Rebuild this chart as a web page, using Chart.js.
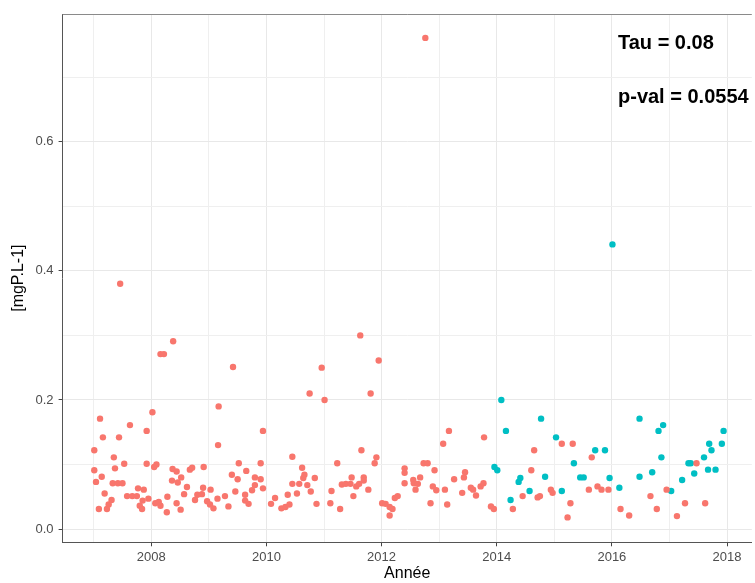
<!DOCTYPE html>
<html>
<head>
<meta charset="utf-8">
<script src="https://cdn.jsdelivr.net/npm/chart.js@4/dist/chart.umd.min.js"></script>
<style>
  html, body { margin: 0; padding: 0; background: #fff; }
  #wrap { width: 755px; height: 583px; }
</style>
</head>
<body>
<div id="wrap"><canvas id="myChart" width="755" height="583"></canvas></div>
<script>
// red series (before / parallel)
const redYears = [
  2007.01, 2007.01, 2007.04, 2007.09, 2007.11, 2007.14, 2007.16, 2007.19, 2007.23, 2007.26,
  2007.31, 2007.33, 2007.35, 2007.37, 2007.42, 2007.44, 2007.46, 2007.50, 2007.53, 2007.58,
  2007.63, 2007.67, 2007.75, 2007.77, 2007.80, 2007.84, 2007.85, 2007.87, 2007.92, 2007.92,
  2007.95, 2008.02, 2008.05, 2008.07, 2008.09, 2008.13, 2008.16, 2008.16, 2008.22, 2008.27,
  2008.28, 2008.36, 2008.37, 2008.38, 2008.44, 2008.44, 2008.46,
  2008.51, 2008.52, 2008.57, 2008.62, 2008.67, 2008.71, 2008.76, 2008.80, 2008.88, 2008.90,
  2008.91, 2008.97, 2009.02, 2009.03, 2009.08, 2009.15, 2009.16, 2009.17, 2009.28, 2009.34,
  2009.40, 2009.42, 2009.46, 2009.50, 2009.52, 2009.63, 2009.63, 2009.65, 2009.69, 2009.75,
  2009.80, 2009.80, 2009.90, 2009.90, 2009.94, 2009.94, 2010.08, 2010.15, 2010.26, 2010.33,
  2010.37, 2010.40, 2010.45, 2010.45,
  2010.53, 2010.57, 2010.62, 2010.64, 2010.66, 2010.71, 2010.75, 2010.77, 2010.84, 2010.87,
  2010.96, 2011.01, 2011.11, 2011.13, 2011.23, 2011.28, 2011.31, 2011.38, 2011.46, 2011.48,
  2011.51, 2011.56, 2011.61, 2011.63, 2011.65, 2011.69, 2011.69, 2011.77, 2011.81, 2011.88,
  2011.91, 2011.95, 2012.01, 2012.07, 2012.14, 2012.14, 2012.19, 2012.23, 2012.28, 2012.40,
  2012.40,
  2012.40, 2012.55, 2012.56, 2012.59, 2012.63, 2012.67, 2012.73, 2012.76, 2012.80, 2012.85,
  2012.89, 2012.92, 2012.95, 2013.07, 2013.10, 2013.14, 2013.17, 2013.26, 2013.40, 2013.43,
  2013.45, 2013.55, 2013.59, 2013.64, 2013.72, 2013.77, 2013.78, 2013.90, 2013.95, 2014.28,
  2014.45, 2014.60, 2014.65, 2014.71, 2014.75, 2014.94, 2014.97, 2015.13, 2015.23, 2015.28,
  2015.32, 2015.60, 2015.65, 2015.75, 2015.82, 2015.94, 2016.15, 2016.30,
  2016.67, 2016.78, 2016.95, 2017.13, 2017.27, 2017.47, 2017.62
];
const redValues = [
  0.122, 0.091, 0.073, 0.031, 0.171, 0.081, 0.142, 0.055, 0.031, 0.038,
  0.045, 0.071, 0.111, 0.094, 0.071, 0.142, 0.380, 0.071, 0.101, 0.051,
  0.161, 0.051, 0.051, 0.063, 0.036, 0.031, 0.044, 0.061, 0.152, 0.101,
  0.047, 0.181, 0.096, 0.040, 0.100, 0.042, 0.036, 0.271, 0.271, 0.026,
  0.050, 0.075, 0.093, 0.291, 0.089, 0.040, 0.072,
  0.030, 0.080, 0.054, 0.065, 0.092, 0.095, 0.045, 0.053, 0.054, 0.064,
  0.096, 0.043, 0.038, 0.061, 0.032, 0.047, 0.130, 0.190, 0.051, 0.035,
  0.084, 0.251, 0.058, 0.077, 0.102, 0.053, 0.044, 0.090, 0.039, 0.060,
  0.068, 0.080, 0.077, 0.102, 0.152, 0.063, 0.039, 0.048, 0.032, 0.034,
  0.053, 0.038, 0.112, 0.070,
  0.055, 0.070, 0.095, 0.079, 0.084, 0.068, 0.210, 0.058, 0.079, 0.039,
  0.250, 0.200, 0.040, 0.059, 0.102, 0.031, 0.069, 0.070, 0.070, 0.080,
  0.051, 0.066, 0.070, 0.300, 0.122, 0.080, 0.075, 0.061, 0.210, 0.102,
  0.111, 0.261, 0.040, 0.039, 0.034, 0.021, 0.031, 0.048, 0.051, 0.094,
  0.071,
  0.087, 0.076, 0.071, 0.061, 0.070, 0.080, 0.102, 0.761, 0.102, 0.040,
  0.066, 0.091, 0.060, 0.132, 0.061, 0.038, 0.152, 0.077, 0.056, 0.080,
  0.088, 0.064, 0.061, 0.052, 0.066, 0.071, 0.142, 0.035, 0.031, 0.031,
  0.051, 0.091, 0.122, 0.049, 0.051, 0.061, 0.056, 0.132, 0.018, 0.040,
  0.132, 0.061, 0.111, 0.066, 0.061, 0.061, 0.031, 0.021,
  0.051, 0.031, 0.061, 0.020, 0.040, 0.102, 0.040
];

// teal series (from 2014)
const tealYears = [
  2013.96, 2014.01, 2014.08, 2014.16, 2014.24, 2014.38, 2014.41, 2014.57, 2014.77, 2014.84,
  2015.03, 2015.13, 2015.34, 2015.45, 2015.51, 2015.71, 2015.88, 2015.96, 2016.01, 2016.13,
  2016.48, 2016.48, 2016.70, 2016.81, 2016.86, 2016.89, 2017.03, 2017.22, 2017.33, 2017.37,
  2017.43, 2017.60, 2017.67, 2017.69, 2017.73, 2017.80, 2017.91, 2017.94
];
const tealValues = [
  0.096, 0.091, 0.200, 0.152, 0.045, 0.073, 0.079, 0.059, 0.171, 0.081,
  0.142, 0.059, 0.102, 0.080, 0.080, 0.122, 0.122, 0.079, 0.441, 0.064,
  0.171, 0.081, 0.088, 0.152, 0.111, 0.161, 0.059, 0.076, 0.102, 0.102,
  0.086, 0.111, 0.092, 0.132, 0.122, 0.092, 0.132, 0.152
];

// axis ticks (major + minor grid)
const xTickYears = [2007, 2008, 2009, 2010, 2011, 2012, 2013, 2014, 2015, 2016, 2017, 2018];
const yTickValues = [0, 0.1, 0.2, 0.3, 0.4, 0.5, 0.6, 0.7];

const statLines = ['Tau = 0.08', 'p-val = 0.0554'];

Chart.defaults.font.family = "'Liberation Sans', Arial, sans-serif";

function toPoints(xs, ys) {
  return xs.map((x, i) => ({ x: x, y: ys[i] }));
}

function isMajorX(v) { return Math.round(v) % 2 === 0; }
function isMajorY(v) { return Math.round(v * 10) % 2 === 0; }

// top border + Tau / p-val text
const extrasPlugin = {
  id: 'extras',
  afterDraw(chart) {
    const ctx = chart.ctx;
    const a = chart.chartArea;
    ctx.save();
    ctx.strokeStyle = '#8a8a8a';
    ctx.lineWidth = 1;
    ctx.beginPath();
    ctx.moveTo(a.left, a.top + 0.5);
    ctx.lineTo(a.right, a.top + 0.5);
    ctx.stroke();

    ctx.fillStyle = '#000';
    ctx.font = "bold 20px 'Liberation Sans', Arial, sans-serif";
    ctx.textBaseline = 'middle';
    ctx.textAlign = 'left';
    ctx.fillText(statLines[0], 618, 43);
    ctx.fillText(statLines[1], 618, 97);
    ctx.restore();
  }
};

const config = {
  type: 'scatter',
  data: {
    datasets: [
      {
        label: 'avant',
        data: toPoints(redYears, redValues),
        backgroundColor: '#F8766D',
        borderWidth: 0,
        pointRadius: 3.2,
        pointHoverRadius: 3.2
      },
      {
        label: 'apres',
        data: toPoints(tealYears, tealValues),
        backgroundColor: '#00BFC4',
        borderWidth: 0,
        pointRadius: 3.2,
        pointHoverRadius: 3.2
      }
    ]
  },
  options: {
    responsive: false,
    animation: false,
    layout: { padding: { top: 14, right: 0, left: 0, bottom: 0 } },
    plugins: { legend: { display: false }, tooltip: { enabled: false } },
    scales: {
      x: {
        type: 'linear',
        min: 2006.46,
        max: 2018.43,
        afterBuildTicks: s => { s.ticks = xTickYears.map(v => ({ value: v })); },
        afterFit: s => { s.height = 40.7; },
        grid: {
          color: c => (c.tick && isMajorX(c.tick.value)) ? '#E8E8E8' : '#EFEFEF',
          lineWidth: 1,
          tickLength: 4,
          tickColor: c => (c.tick && isMajorX(c.tick.value)) ? '#444' : 'rgba(0,0,0,0)'
        },
        border: { display: true, color: '#555', width: 1 },
        ticks: {
          callback: v => isMajorX(v) ? String(v) : '',
          color: '#4D4D4D',
          font: { size: 13 },
          padding: 3,
          maxRotation: 0,
          autoSkip: false
        },
        title: {
          display: true,
          text: 'Année',
          color: '#000',
          font: { size: 16 },
          padding: { top: 0, bottom: 0 }
        }
      },
      y: {
        type: 'linear',
        min: -0.0206,
        max: 0.798,
        afterBuildTicks: s => { s.ticks = yTickValues.map(v => ({ value: v })); },
        afterFit: s => { s.width = 62.6; },
        grid: {
          color: c => (c.tick && isMajorY(c.tick.value)) ? '#E8E8E8' : '#EFEFEF',
          lineWidth: 1,
          tickLength: 4,
          tickColor: c => (c.tick && isMajorY(c.tick.value)) ? '#444' : 'rgba(0,0,0,0)'
        },
        border: { display: true, color: '#555', width: 1 },
        ticks: {
          callback: v => isMajorY(v) ? v.toFixed(1) : '',
          color: '#4D4D4D',
          font: { size: 13 },
          padding: 5
        },
        title: {
          display: true,
          text: '[mgP.L-1]',
          color: '#000',
          font: { size: 16 },
          padding: { top: 9, bottom: 0 }
        }
      }
    }
  },
  plugins: [extrasPlugin]
};

const myChart = new Chart(document.getElementById('myChart'), config);
</script>
</body>
</html>
